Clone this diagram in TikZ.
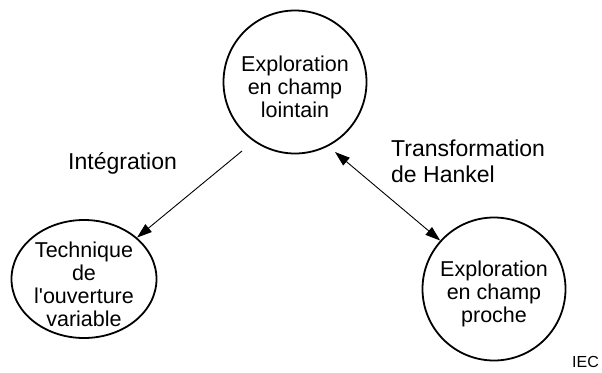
\documentclass[tikz,border=0pt]{standalone}
\usepackage{fontspec}
\setmainfont{Liberation Sans}
\usetikzlibrary{shapes.geometric,arrows.meta}

\newcommand{\abaisse}{\rule{0pt}{25.6pt}}

\begin{document}
\begin{tikzpicture}[x=1pt,y=-1pt,
  every node/.style={font=\fontsize{21.5}{23}\selectfont, align=center, inner sep=0pt},
  bulle/.style={draw, line width=1.8pt, circle, minimum size=143pt},
  legende/.style={font=\fontsize{23}{26}\selectfont, align=left},
  fleche/.style={line width=0.9pt, >={Triangle[length=15pt,width=10pt]}}]
\useasboundingbox (0,0) rectangle (602,372);
% les trois bulles
\node[bulle] (lointain) at (295,82) {\abaisse Exploration\\en champ\\lointain};
\node[bulle, ellipse, inner sep=-10pt, minimum width=145pt, minimum height=118pt] (ouverture) at (84,279)
  {\abaisse Technique\\de\\l\textquotesingle ouverture\\variable};
\node[bulle] (proche) at (494,289) {\abaisse Exploration\\en champ\\proche};
% les fleches
\coordinate (depart) at (242,151);
\coordinate (hankel) at (335,152);
\draw[fleche,->] (depart) -- (ouverture.38);
\draw[fleche,<->] (hankel) -- (proche.138);
% les textes
\node[legende, anchor=north west] (integ) at (68,152.5) {Intégration};
\node[legende, anchor=north west] (transfo) at (391,139.5) {Transformation\\de Hankel};
\node[anchor=base east, font=\fontsize{16}{18}\selectfont] (iec) at (599,367) {IEC};
\end{tikzpicture}
\end{document}
